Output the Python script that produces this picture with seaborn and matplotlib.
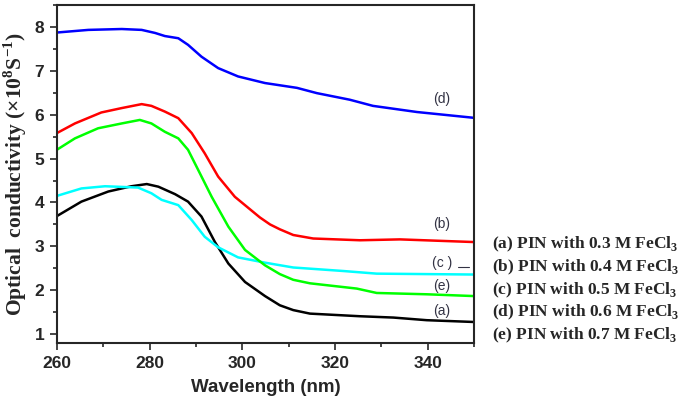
import numpy as np
import pandas as pd
import matplotlib
matplotlib.use("Agg")
import matplotlib.pyplot as plt
from matplotlib.ticker import MultipleLocator
import seaborn as sns

# ── DATA ──────────────────────────────────────────────────────────────────────

wl_a = [260.0, 265.3, 271.1, 276.1, 279.4, 281.9, 285.5, 288.3, 291.2, 294.1, 297.0,
        300.6, 304.9, 308.1, 311.0, 314.6, 325.4, 332.6, 339.8, 349.8]
oc_a = [3.69, 4.02, 4.25, 4.37, 4.42, 4.36, 4.19, 4.02, 3.68, 3.10, 2.61,
        2.19, 1.87, 1.66, 1.55, 1.47, 1.41, 1.38, 1.32, 1.28]

wl_b = [260.0, 263.9, 269.6, 274.0, 278.3, 280.4, 283.3, 286.2, 289.1, 291.9, 294.8,
        298.4, 301.5, 303.8, 306.0, 308.1, 311.0, 315.3, 325.4, 334.0, 349.8]
oc_b = [5.58, 5.80, 6.05, 6.15, 6.24, 6.20, 6.07, 5.92, 5.58, 5.12, 4.59,
        4.13, 3.86, 3.66, 3.50, 3.39, 3.26, 3.18, 3.14, 3.16, 3.10]

wl_c = [260.0, 265.3, 270.4, 277.5, 280.4, 282.6, 286.2, 289.1, 291.9, 294.8, 299.1,
        304.9, 311.0, 321.8, 329.0, 349.8]
oc_c = [4.15, 4.32, 4.37, 4.34, 4.21, 4.06, 3.94, 3.60, 3.22, 2.98, 2.75,
        2.63, 2.52, 2.44, 2.38, 2.36]

wl_d = [260.0, 266.8, 274.0, 278.3, 281.2, 283.3, 286.2, 288.3, 291.2, 294.8, 299.1,
        304.9, 311.8, 316.1, 323.2, 328.2, 337.7, 349.8]
oc_d = [7.87, 7.93, 7.95, 7.93, 7.86, 7.79, 7.74, 7.59, 7.32, 7.06, 6.87,
        6.72, 6.61, 6.49, 6.34, 6.20, 6.06, 5.93]

wl_e = [260.0, 263.9, 268.9, 274.0, 277.9, 280.4, 283.3, 286.2, 288.3, 290.5, 293.4,
        297.0, 300.6, 304.9, 308.1, 311.0, 314.6, 324.7, 329.0, 339.8, 349.8]
oc_e = [5.20, 5.46, 5.69, 5.80, 5.88, 5.80, 5.61, 5.46, 5.20, 4.74, 4.13,
        3.45, 2.92, 2.57, 2.37, 2.24, 2.16, 2.04, 1.94, 1.91, 1.87]

series_ids = ["a", "b", "c", "d", "e"]
series_colors = {"a": "black", "b": "#ff0000", "c": "#00ffff", "d": "#0000ff", "e": "#00ff00"}
legend_texts = [
    "(a) PIN with 0.3 M FeCl$_\\mathbf{3}$",
    "(b) PIN with 0.4 M FeCl$_\\mathbf{3}$",
    "(c) PIN with 0.5 M FeCl$_\\mathbf{3}$",
    "(d) PIN with 0.6 M FeCl$_\\mathbf{3}$",
    "(e) PIN with 0.7 M FeCl$_\\mathbf{3}$",
]
curve_labels = ["(a)", "(b)", "(c )", "(d)", "(e)"]
curve_label_x = [343.1, 343.1, 343.1, 343.1, 343.1]
curve_label_y = [1.53, 3.51, 2.62, 6.36, 2.10]

# ── BUILD LONG TABLE ──────────────────────────────────────────────────────────

frames = []
for sid, wl, oc in zip(series_ids,
                       [wl_a, wl_b, wl_c, wl_d, wl_e],
                       [oc_a, oc_b, oc_c, oc_d, oc_e]):
    frames.append(pd.DataFrame({"wl": wl, "oc": oc, "sample": sid}))
df = pd.concat(frames, ignore_index=True)

# ── PLOT ──────────────────────────────────────────────────────────────────────

sns.set_style("ticks")
plt.rcParams["mathtext.fontset"] = "custom"
plt.rcParams["mathtext.rm"] = "Liberation Serif"
plt.rcParams["mathtext.bf"] = "Liberation Serif:bold"
plt.rcParams["lines.solid_joinstyle"] = "round"

fig = plt.figure(figsize=(6.85, 4.05), dpi=100)
ax = fig.add_axes([0.083, 0.153, 0.609, 0.835])

sns.lineplot(data=df, x="wl", y="oc", hue="sample", palette=series_colors,
             estimator=None, sort=False, linewidth=1.8, legend=False, ax=ax)

ax.set_xlim(260, 350)
ax.set_ylim(0.8, 8.5)
ax.xaxis.set_major_locator(MultipleLocator(20))
ax.xaxis.set_minor_locator(MultipleLocator(10))
ax.yaxis.set_major_locator(MultipleLocator(1))
ax.yaxis.set_minor_locator(MultipleLocator(0.5))
ax.tick_params(which="major", length=5, width=1.2, direction="out", pad=4)
ax.tick_params(which="minor", length=3, width=1.2, direction="out")
for lab in ax.get_xticklabels() + ax.get_yticklabels():
    lab.set_family("Liberation Sans")
    lab.set_fontweight("bold")
    lab.set_fontsize(12.5)
for sp in ax.spines.values():
    sp.set_visible(True)
    sp.set_linewidth(1.5)

ax.set_xlabel("Wavelength (nm)", family="Liberation Sans", fontweight="bold",
              fontsize=13.5, labelpad=6)
ax.set_ylabel("Optical  conductivity (×10$^\\mathbf{8}$S$^\\mathbf{-1}$)",
              family="Liberation Serif", fontweight="bold", fontsize=15.5, labelpad=4)

for txt, x, y in zip(curve_labels, curve_label_x, curve_label_y):
    ax.text(x, y, txt, fontsize=10, color="#333344", family="Liberation Sans",
            ha="center", va="center")
ax.plot([346.6, 349.0], [2.53, 2.53], color="#333344", linewidth=0.8)

for i, txt in enumerate(legend_texts):
    fig.text(0.718, 0.397 - i * 0.0565, txt, family="Liberation Serif",
             fontweight="bold", fontsize=12.5, va="center", ha="left")

fig.savefig("out.png", dpi=100)
